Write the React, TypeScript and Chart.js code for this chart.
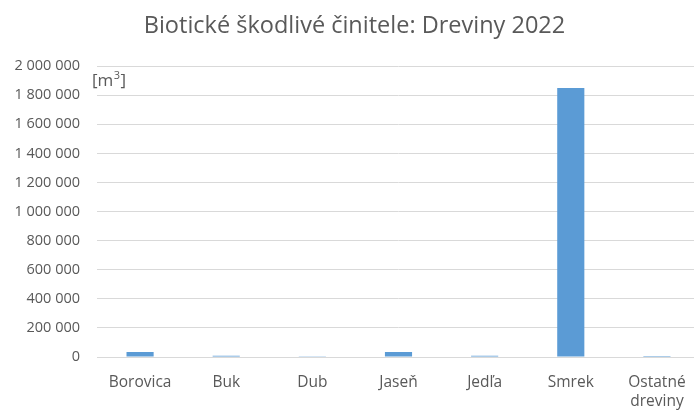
import React, { useEffect, useRef } from "react";
import { Chart, registerables } from "chart.js";

Chart.register(...registerables);

const categories: (string | string[])[] = ["Borovica", "Buk", "Dub", "Jaseň", "Jedľa", "Smrek", ["Ostatné", "dreviny"]];
const volumes: number[] = [34000, 9000, 1000, 34000, 9000, 1850000, 500];
const titleText = "Biotické škodlivé činitele: Dreviny 2022";
const unitLabel = "[m";
const unitSup = "3";

const FONT = "'Open Sans', 'Liberation Sans', sans-serif";
const GREY = "#595959";

function fmt(v: number): string {
  return Math.round(v).toString().replace(/\B(?=(\d{3})+(?!\d))/g, " ");
}

const unitPlugin = {
  id: "unitLabel",
  afterDraw(chart: any) {
    const ctx = chart.ctx;
    const area = chart.chartArea;
    ctx.save();
    ctx.fillStyle = GREY;
    ctx.textBaseline = "alphabetic";
    ctx.textAlign = "left";
    ctx.font = `17px ${FONT}`;
    const x = area.left - 5;
    const y = area.top + 20;
    ctx.fillText(unitLabel, x, y);
    const w = ctx.measureText(unitLabel).width;
    ctx.font = `11px ${FONT}`;
    ctx.fillText(unitSup, x + w + 0.5, y - 7);
    const w2 = ctx.measureText(unitSup).width;
    ctx.font = `17px ${FONT}`;
    ctx.fillText("]", x + w + w2 + 1, y);
    ctx.restore();
  },
};

export default function App() {
  const ref = useRef<HTMLCanvasElement | null>(null);
  useEffect(() => {
    document.body.style.margin = "0";
    if (!ref.current) return;
    const chart = new Chart(ref.current, {
      type: "bar",
      data: {
        labels: categories,
        datasets: [
          {
            data: volumes,
            backgroundColor: "#5B9BD5",
            borderWidth: 0,
            barPercentage: 0.63,
            categoryPercentage: 0.5,
          },
        ],
      },
      options: {
        animation: false,
        responsive: false,
        layout: { padding: { left: 9, right: 10, top: 0, bottom: 3 } },
        plugins: {
          legend: { display: false },
          tooltip: { enabled: false },
          title: {
            display: true,
            text: titleText,
            color: GREY,
            font: { family: FONT, size: 23.5, weight: "normal", lineHeight: 1.2 },
            padding: { top: 12, bottom: 26 },
          },
        },
        scales: {
          x: {
            grid: { display: false },
            border: { display: true, color: "#D9D9D9", width: 1 },
            afterFit: (scale: any) => {
              scale.height = 53;
            },
            ticks: {
              color: GREY,
              font: { family: FONT, size: 15.5, lineHeight: 1.25 },
              padding: 8,
              maxRotation: 0,
              autoSkip: false,
            },
          },
          y: {
            min: 0,
            max: 2000000,
            grid: { color: "#D9D9D9", drawTicks: false },
            border: { display: false },
            afterFit: (scale: any) => {
              scale.width = 88;
            },
            ticks: {
              stepSize: 200000,
              color: GREY,
              font: { family: FONT, size: 14.5, lineHeight: 1.2 },
              padding: 17,
              callback: (v: any) => fmt(Number(v)),
            },
          },
        },
      },
      plugins: [unitPlugin],
    });
    return () => chart.destroy();
  }, []);
  return (
    <div style={{ width: 694, height: 413, overflow: "hidden" }}>
      <canvas ref={ref} width={710} height={413} style={{ display: "block" }} />
    </div>
  );
}
